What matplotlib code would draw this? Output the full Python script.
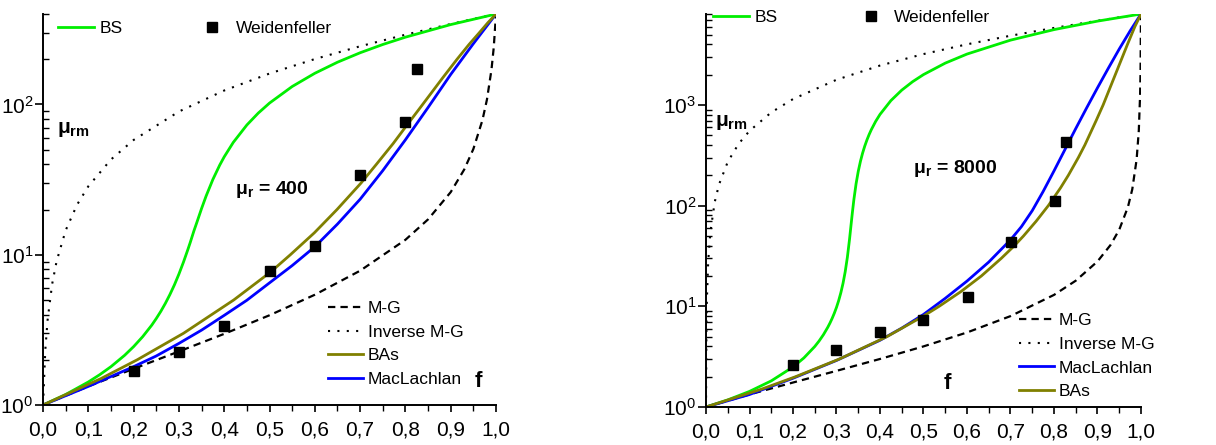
import matplotlib
matplotlib.use('Agg')
import numpy as np
import matplotlib.pyplot as plt
from matplotlib.ticker import MultipleLocator, LogLocator, NullFormatter

plt.rcParams['font.family'] = ['Liberation Sans', 'DejaVu Sans']
plt.rcParams['mathtext.fontset'] = 'custom'
plt.rcParams['mathtext.rm'] = 'Liberation Sans'
plt.rcParams['mathtext.it'] = 'Liberation Sans:italic'
plt.rcParams['mathtext.bf'] = 'Liberation Sans:bold'
plt.rcParams['mathtext.default'] = 'regular'

# ---------------- data: left panel (mu_r = 400) ----------------
f_mg_l = [0, 0.1, 0.2, 0.3, 0.4, 0.5, 0.6, 0.7, 0.8, 0.85, 0.9, 0.93, 0.95, 0.97, 0.98, 0.99, 0.995, 1.0]
mu_mg_l = [1, 1.331, 1.743, 2.272, 2.975, 3.956, 5.417, 7.829, 12.57, 17.19, 26.11, 37.0, 50.55, 78.56, 107.8, 170.5, 239.4, 400]

f_img_l = [0, 0.005, 0.01, 0.02, 0.03, 0.05, 0.075, 0.1, 0.15, 0.2, 0.3, 0.4, 0.5, 0.6, 0.7, 0.8, 0.9, 1.0]
mu_img_l = [1, 2.33, 3.67, 6.36, 9.07, 14.54, 21.49, 28.55, 43.05, 58.06, 89.75, 123.9, 160.7, 200.6, 244.0, 291.3, 343.1, 400]

f_bs_l = [0, 0.05, 0.1, 0.125, 0.15, 0.18, 0.2, 0.22, 0.24, 0.25, 0.26, 0.27, 0.28, 0.29, 0.3, 0.31, 0.32, 0.325, 0.333,
          0.34, 0.35, 0.36, 0.375, 0.39, 0.4, 0.42, 0.45, 0.475, 0.5, 0.55, 0.6, 0.65, 0.7, 0.75, 0.8, 0.9, 1.0]
mu_bs_l = [1, 1.175, 1.423, 1.59, 1.80, 2.14, 2.447, 2.85, 3.40, 3.764, 4.20, 4.745, 5.43, 6.30, 7.44, 8.93, 10.89, 12.08, 14.39,
           16.56, 20.32, 24.59, 31.74, 39.48, 44.86, 55.95, 73.06, 87.57, 102.2, 131.7, 161.3, 191.1, 220.9, 250.7, 280.5, 340.2, 400]

f_bas_l = [0, 0.128, 0.208, 0.310, 0.421, 0.503, 0.546, 0.599, 0.649, 0.702, 0.736, 0.773, 0.799, 0.838, 0.882, 0.914,
           0.940, 0.963, 0.982, 1.0]
mu_bas_l = [1, 1.5, 2, 3, 5, 7.7, 10, 14, 20, 30, 40, 55, 70, 100, 150, 200, 250, 300, 350, 400]

f_mac_l = [0, 0.1, 0.2, 0.25, 0.3, 0.35, 0.4, 0.45, 0.5, 0.55, 0.6, 0.65, 0.7, 0.75, 0.8, 0.85, 0.9, 0.95, 1.0]
mu_mac_l = [1, 1.33, 1.80, 2.12, 2.57, 3.15, 3.95, 4.98, 6.5, 8.47, 11.3, 16.0, 23.4, 36.3, 58.2, 95.5, 158.5, 254, 400]

f_wd_l = [0.2, 0.3, 0.4, 0.5, 0.6, 0.7, 0.8, 0.825]
mu_wd_l = [1.68, 2.24, 3.35, 7.8, 11.4, 34.1, 76.3, 171]

# ---------------- data: right panel (mu_r = 8000) ----------------
f_mg_r = [0, 0.1, 0.2, 0.3, 0.4, 0.5, 0.6, 0.7, 0.8, 0.85, 0.9, 0.93, 0.95, 0.97, 0.98, 0.99, 0.995, 0.998, 0.999, 1.0]
mu_mg_r = [1, 1.333, 1.750, 2.285, 2.999, 3.998, 5.496, 7.991, 12.98, 17.96, 27.90, 40.65, 57.58, 96.80, 145.3, 287.3, 556, 1261, 2180, 8000]

f_img_r = [0, 0.001, 0.002, 0.005, 0.01, 0.02, 0.03, 0.05, 0.075, 0.1, 0.15, 0.2, 0.3, 0.4, 0.5, 0.6, 0.7, 0.8, 0.9, 1.0]
mu_img_r = [1, 6.34, 11.67, 27.7, 54.5, 108.4, 162.6, 272.2, 411.2, 552.7, 843.1, 1143.8, 1778.6, 2462.4, 3200.7, 4000.6, 4870, 5818, 6857, 8000]

f_bs_r = [0, 0.05, 0.1, 0.15, 0.2, 0.225, 0.25, 0.26, 0.27, 0.28, 0.285, 0.29, 0.295, 0.3, 0.305, 0.31, 0.315, 0.32, 0.325,
          0.33, 0.3333, 0.335, 0.3366, 0.34, 0.345, 0.35, 0.355, 0.36, 0.365, 0.37, 0.375, 0.38, 0.39, 0.4, 0.425, 0.45,
          0.475, 0.5, 0.55, 0.6, 0.7, 0.8, 0.9, 1.0]
mu_bs_r = [1, 1.176, 1.428, 1.817, 2.497, 3.071, 3.987, 4.525, 5.23, 6.196, 6.823, 7.59, 8.547, 9.77, 11.40, 13.65, 16.92, 22.04, 30.7,
           46.5, 63.5, 74.3, 86.1, 115.2, 164.8, 218.8, 275, 332.5, 390.7, 449.3, 508.3, 567.5, 686.2, 805.4, 1104, 1403,
           1702.7, 2002, 2602, 3201, 4401, 5600, 6800, 8000]

f_bas_r = [0, 0.127, 0.206, 0.307, 0.416, 0.500, 0.536, 0.586, 0.633, 0.679, 0.709, 0.730, 0.759, 0.787, 0.815, 0.833, 0.856,
           0.871, 0.897, 0.913, 0.941, 0.969, 0.986, 1.0]
mu_bas_r = [1, 1.5, 2, 3, 5, 8, 10, 14, 20, 30, 40, 50, 70, 100, 150, 200, 300, 400, 700, 1000, 2000, 4000, 6000, 8000]

f_mac_r = [0, 0.1, 0.2, 0.3, 0.4, 0.45, 0.5, 0.55, 0.6, 0.65, 0.7, 0.725, 0.75, 0.775, 0.8, 0.825, 0.85, 0.875, 0.9, 0.925,
           0.95, 0.975, 1.0]
mu_mac_r = [1, 1.33, 1.93, 2.9, 4.6, 6.07, 8.3, 12, 17.8, 27.5, 45.7, 61.7, 89.1, 138, 221, 359, 582, 933, 1479, 2317,
            3589, 5433, 8000]

f_wd_r = [0.2, 0.298, 0.4, 0.5, 0.602, 0.701, 0.802, 0.827]
mu_wd_r = [2.59, 3.68, 5.56, 7.37, 12.3, 43.5, 111, 426]

# ---------------- ticks / labels ----------------
xticks = [0.0, 0.1, 0.2, 0.3, 0.4, 0.5, 0.6, 0.7, 0.8, 0.9, 1.0]
xtick_labels = ['0,0', '0,1', '0,2', '0,3', '0,4', '0,5', '0,6', '0,7', '0,8', '0,9', '1,0']
yticks_l = [1, 10, 100]
ytick_labels_l = [r'$10^{0}$', r'$10^{1}$', r'$10^{2}$']
yticks_r = [1, 10, 100, 1000]
ytick_labels_r = [r'$10^{0}$', r'$10^{1}$', r'$10^{2}$', r'$10^{3}$']
ymax_l, ymax_r = 400, 8000

C_BS = '#00ee00'
C_BAS = '#808000'
C_MAC = '#0000ff'
DASH = (0, (3.3, 2.3))
DOT = (0, (1, 3.5))

fig = plt.figure(figsize=(12.16, 4.45), dpi=100)
axL = fig.add_axes([0.0354, 0.0899, 0.3725, 0.8786])
axR = fig.add_axes([0.5806, 0.0854, 0.3577, 0.8831])


def draw(ax, d, order, ymax, yt, ytl, top_anchor, low_anchor, col_sp):
    mg, = ax.plot(d['f_mg'], d['mu_mg'], color='black', lw=1.6, ls=DASH, label='M-G')
    img, = ax.plot(d['f_img'], d['mu_img'], color='black', lw=1.5, ls=DOT, label='Inverse M-G')
    bs, = ax.plot(d['f_bs'], d['mu_bs'], color=C_BS, lw=2.0, label='BS')
    mac, = ax.plot(d['f_mac'], d['mu_mac'], color=C_MAC, lw=2.0, label='MacLachlan')
    bas, = ax.plot(d['f_bas'], d['mu_bas'], color=C_BAS, lw=2.0, label='BAs')
    wd, = ax.plot(d['f_wd'], d['mu_wd'], ls='None', marker='s', ms=6.5, color='black', label='Weidenfeller')
    ax.set_yscale('log')
    ax.set_xlim(0, 1)
    ax.set_ylim(1, ymax)
    for s in ['top', 'right']:
        ax.spines[s].set_visible(False)
    for s in ['left', 'bottom']:
        ax.spines[s].set_linewidth(1.4)
    ax.set_xticks(xticks, xtick_labels)
    ax.xaxis.set_minor_locator(MultipleLocator(0.05))
    ax.set_yticks(yt, ytl)
    ax.yaxis.set_minor_locator(LogLocator(base=10, subs=np.arange(2, 10), numticks=20))
    ax.yaxis.set_minor_formatter(NullFormatter())
    ax.tick_params(axis='x', which='major', direction='out', length=5, width=1.2, labelsize=15, pad=6)
    ax.tick_params(axis='x', which='minor', direction='out', length=4, width=1.0)
    ax.tick_params(axis='y', which='major', direction='out', length=6, width=1.2, labelsize=15, pad=1)
    ax.tick_params(axis='y', which='minor', direction='in', length=4, width=1.0)

    leg1 = ax.legend(handles=[bs, wd], ncol=2, loc='center left', bbox_to_anchor=top_anchor,
                     frameon=False, fontsize=12.5, borderpad=0, borderaxespad=0,
                     handlelength=2.1, handletextpad=0.3, columnspacing=col_sp, numpoints=1)
    ax.add_artist(leg1)
    handles = {'M-G': mg, 'Inverse M-G': img, 'BAs': bas, 'MacLachlan': mac}
    ax.legend(handles=[handles[k] for k in order], loc='upper left', bbox_to_anchor=low_anchor,
              frameon=False, fontsize=12.5, borderpad=0, borderaxespad=0,
              handlelength=2.0, handletextpad=0.3, labelspacing=0.5)


dL = dict(f_mg=f_mg_l, mu_mg=mu_mg_l, f_img=f_img_l, mu_img=mu_img_l, f_bs=f_bs_l, mu_bs=mu_bs_l,
          f_bas=f_bas_l, mu_bas=mu_bas_l, f_mac=f_mac_l, mu_mac=mu_mac_l, f_wd=f_wd_l, mu_wd=mu_wd_l)
dR = dict(f_mg=f_mg_r, mu_mg=mu_mg_r, f_img=f_img_r, mu_img=mu_img_r, f_bs=f_bs_r, mu_bs=mu_bs_r,
          f_bas=f_bas_r, mu_bas=mu_bas_r, f_mac=f_mac_r, mu_mac=mu_mac_r, f_wd=f_wd_r, mu_wd=mu_wd_r)

draw(axL, dL, ['M-G', 'Inverse M-G', 'BAs', 'MacLachlan'], ymax_l, yticks_l, ytick_labels_l,
     (0.033, 0.962), (0.629, 0.267), 4.1)
draw(axR, dR, ['M-G', 'Inverse M-G', 'MacLachlan', 'BAs'], ymax_r, yticks_r, ytick_labels_r,
     (0.016, 0.992), (0.72, 0.240), 4.3)

# annotations
axL.text(0.031, 0.705, r'$\mathbf{μ_{rm}}$', transform=axL.transAxes, fontsize=15, va='center', ha='left')
axL.text(0.424, 0.552, r'$\mathbf{μ_{r}}$ = 400', transform=axL.transAxes, fontsize=14, fontweight='bold',
         va='center', ha='left')
axL.text(0.952, 0.059, 'f', transform=axL.transAxes, fontsize=16, fontweight='bold', va='center', ha='left')

axR.text(0.021, 0.725, r'$\mathbf{μ_{rm}}$', transform=axR.transAxes, fontsize=15, va='center', ha='left')
axR.text(0.476, 0.607, r'$\mathbf{μ_{r}}$ = 8000', transform=axR.transAxes, fontsize=14, fontweight='bold',
         va='center', ha='left')
axR.text(0.547, 0.061, 'f', transform=axR.transAxes, fontsize=16, fontweight='bold', va='center', ha='left')

fig.savefig('out.png', dpi=100)
